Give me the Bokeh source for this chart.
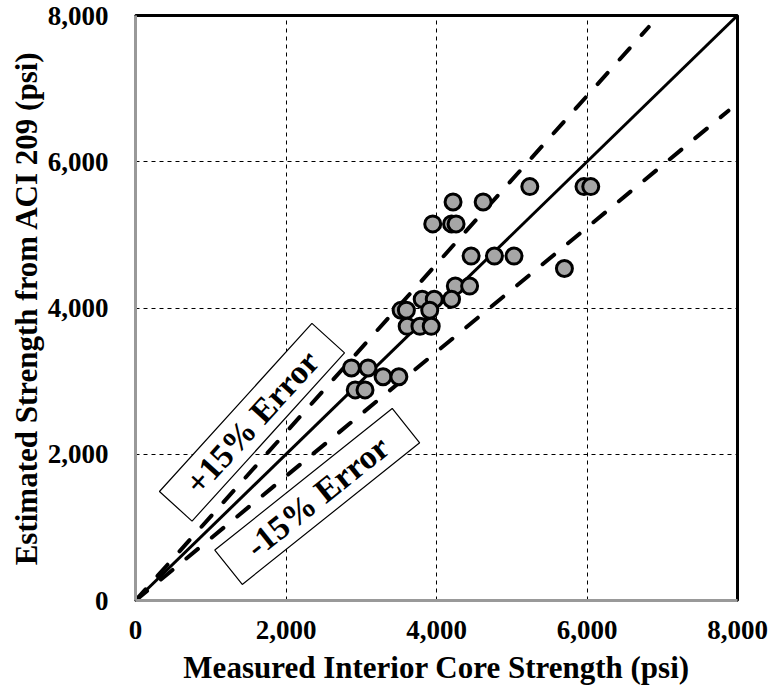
from bokeh.plotting import figure
from bokeh.models import Range1d, FixedTicker, NumeralTickFormatter, ColumnDataSource
from bokeh.core.properties import value
from bokeh.embed import file_html
from bokeh.resources import INLINE
import numpy as np

# Data
measured = [5240, 5960, 6050, 4220, 4620, 3950, 4200, 4260, 4460, 4770, 5030, 5700,
            4250, 4440, 3810, 3970, 4200, 3530, 3600, 3910, 3610, 3780, 3930,
            2870, 3090, 3290, 3500, 2920, 3050]
estimated = [5660, 5660, 5660, 5450, 5450, 5150, 5150, 5150, 4710, 4710, 4710, 4540,
             4300, 4300, 4120, 4120, 4120, 3970, 3970, 3970, 3750, 3750, 3750,
             3180, 3180, 3060, 3060, 2880, 2880]

equality_x = [0, 8000]
upper_x = [0, 6820]
lower_x = [0, 7880]
upper_factor = 1.15
lower_factor = 0.85

ticks = [0, 2000, 4000, 6000, 8000]

label_texts = ["+15% Error", "-15% Error"]
label_x = [1548, 2415]
label_y = [2438, 1423]
label_angle_deg = [47.8, 38.6]

FONT = "Liberation Serif"

p = figure(width=773, height=692, output_backend="svg", toolbar_location=None,
           x_range=Range1d(0, 8000), y_range=Range1d(0, 8000),
           min_border_left=135, min_border_right=36, min_border_top=15, min_border_bottom=92)

p.background_fill_color = "white"
p.border_fill_color = "white"
p.outline_line_color = "black"
p.outline_line_width = 3

for ax in (p.xaxis, p.yaxis):
    ax.ticker = FixedTicker(ticks=ticks)
    ax.formatter = NumeralTickFormatter(format="0,0")
    ax.major_tick_line_color = None
    ax.minor_tick_line_color = None
    ax.axis_line_color = "#999999"
    ax.axis_line_width = 3
    ax.major_label_text_font = FONT
    ax.major_label_text_font_style = "bold"
    ax.major_label_text_font_size = "27px"
    ax.major_label_text_color = "black"
    ax.axis_label_text_font = FONT
    ax.axis_label_text_font_style = "bold"
    ax.axis_label_text_font_size = "31px"
    ax.axis_label_text_color = "black"

p.xaxis.axis_label = "Measured Interior Core Strength (psi)"
p.yaxis.axis_label = "Estimated Strength from ACI 209 (psi)"
p.xaxis.major_label_standoff = 14
p.yaxis.major_label_standoff = 21
p.xaxis.axis_label_standoff = 8
p.yaxis.axis_label_standoff = 1

for g in (p.xgrid, p.ygrid):
    g.grid_line_color = "black"
    g.grid_line_dash = "4 4"
    g.grid_line_width = 1
    g.ticker = FixedTicker(ticks=ticks)

# Reference lines
p.line(equality_x, equality_x, line_color="black", line_width=3)
p.line(upper_x, list(np.array(upper_x) * upper_factor), line_color="black",
       line_width=4, line_dash="15 18", line_cap="round")
p.line(lower_x, list(np.array(lower_x) * lower_factor), line_color="black",
       line_width=4, line_dash="15 18", line_cap="round")

# Data points
p.scatter(measured, estimated, size=16, fill_color="#a6a6a6",
          line_color="black", line_width=3)

# Labels in boxes
src = ColumnDataSource(dict(x=label_x, y=label_y, text=label_texts,
                            angle=[np.deg2rad(a) for a in label_angle_deg]))
p.rect(x="x", y="y", width=227, height=44, width_units="screen", height_units="screen",
       angle="angle", source=src, fill_color="white", line_color="black", line_width=1.2)
p.text(x="x", y="y", text="text", angle="angle", source=src,
       text_font=value(FONT), text_font_style="bold", text_font_size="34px",
       text_align="center", text_baseline="middle", text_color="black")

open("out.html", "w").write(file_html(p, INLINE))
